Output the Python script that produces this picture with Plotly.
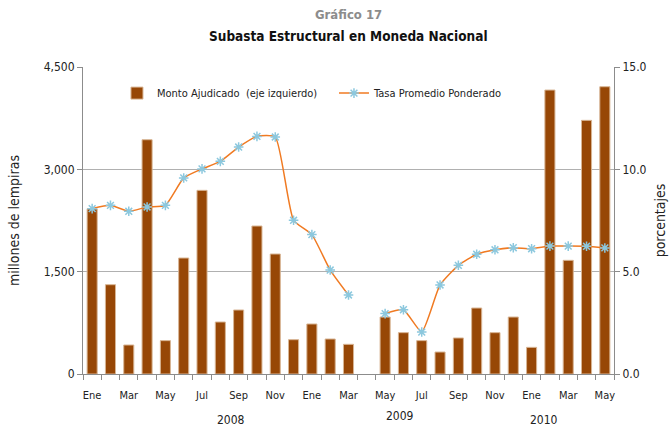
import plotly.graph_objects as go

months = ["Ene", "Feb", "Mar", "Abr", "May", "Jun", "Jul", "Ago", "Sep", "Oct", "Nov", "Dic",
          "Ene", "Feb", "Mar", "Abr", "May", "Jun", "Jul", "Ago", "Sep", "Oct", "Nov", "Dic",
          "Ene", "Feb", "Mar", "Abr", "May"]
years = ["2008", "2009", "2010"]
year_pos = [7.6, 16.8, 24.7]

monto = [2423, 1309, 425, 3434, 489, 1700, 2692, 762, 938, 2169, 1759, 503,
         733, 513, 435, None, 835, 606, 489, 322, 528, 967, 606, 835,
         391, 4162, 1666, 3718, 4211]
tasa = [8.08, 8.24, 7.95, 8.16, 8.24, 9.58, 10.02, 10.39, 11.09, 11.61, 11.58, 7.51,
        6.81, 5.08, 3.86, None, 2.95, 3.14, 2.05, 4.35, 5.31, 5.85, 6.07, 6.17,
        6.12, 6.25, 6.25, 6.24, 6.16]

idx = list(range(len(months)))
FONT = "Liberation Sans Narrow, DejaVu Sans Condensed, Liberation Sans, sans-serif"

fig = go.Figure()
fig.add_trace(go.Bar(
    x=idx, y=monto, name="Monto Ajudicado  (eje izquierdo)",
    marker=dict(color="#974706", line=dict(color="#d8b594", width=1)),
    yaxis="y",
))
fig.add_trace(go.Scatter(
    x=idx, y=tasa, name="Tasa Promedio Ponderado", mode="lines+markers",
    line=dict(color="#f07a22", width=1.5, shape="spline", smoothing=0.5),
    marker=dict(symbol="asterisk-open", size=8, color="#8cc8de",
                line=dict(color="#8cc8de", width=1.5)),
    connectgaps=False, yaxis="y2",
))

year_y = [-0.15, -0.137, -0.15]
for y, xp, yy in zip(years, year_pos, year_y):
    fig.add_annotation(x=xp, y=yy, xref="x", yref="paper", text=y, yanchor="middle",
                       showarrow=False, font=dict(size=12, color="#222"))

fig.add_annotation(x=0.5, y=1.0, xref="paper", yref="paper", xanchor="center",
                   yanchor="bottom", yshift=43, text="<b>Gráfico 17</b>",
                   showarrow=False, font=dict(size=13, color="#8c8c8c"))
fig.add_annotation(x=0.5, y=1.0, xref="paper", yref="paper", xanchor="center",
                   yanchor="bottom", yshift=21, text="<b>Subasta Estructural en Moneda Nacional</b>",
                   showarrow=False, font=dict(size=13.5, color="#111"))

fig.update_layout(
    width=672, height=426,
    margin=dict(l=83, r=58, t=67, b=52),
    paper_bgcolor="white", plot_bgcolor="white",
    font=dict(family=FONT, size=12, color="#222"),
    bargap=0.45,
    showlegend=True,
    legend=dict(orientation="h", x=0.064, y=0.915, xanchor="left", yanchor="middle",
                bgcolor="rgba(0,0,0,0)", font=dict(size=11), entrywidth=172),
    xaxis=dict(
        range=[-0.5, 28.5], tickmode="array",
        tickvals=idx[::2], ticktext=months[::2],
        ticks="", showgrid=False, showline=True, linecolor="#8c8c8c", linewidth=1,
        tickfont=dict(size=11), zeroline=False, ticklabelstandoff=11,
        minor=dict(tickmode="linear", tick0=-0.5, dtick=1, ticks="outside",
                   ticklen=5, tickcolor="#8c8c8c", showgrid=False),
    ),
    yaxis=dict(
        range=[0, 4500], tickvals=[0, 1500, 3000, 4500], tickformat=",",
        showgrid=True, gridcolor="#b0b0b0", gridwidth=1, zeroline=False,
        showline=True, linecolor="#8c8c8c", ticks="outside", ticklen=5, tickcolor="#8c8c8c",
        title=dict(text="millones de lempiras", font=dict(size=14), standoff=20),
        tickfont=dict(size=12), automargin=False,
    ),
    yaxis2=dict(
        range=[0, 15], tickvals=[0, 5, 10, 15], tickformat=".1f",
        overlaying="y", side="right", showgrid=False, zeroline=False,
        showline=True, linecolor="#8c8c8c", ticks="outside", ticklen=5, tickcolor="#8c8c8c",
        title=dict(text="porcentajes", font=dict(size=14), standoff=9),
        tickfont=dict(size=12), automargin=False,
    ),
)

fig.write_html("out.html", config={"displayModeBar": False},
               post_script="document.body.style.margin='0';document.body.style.overflow='hidden';")
